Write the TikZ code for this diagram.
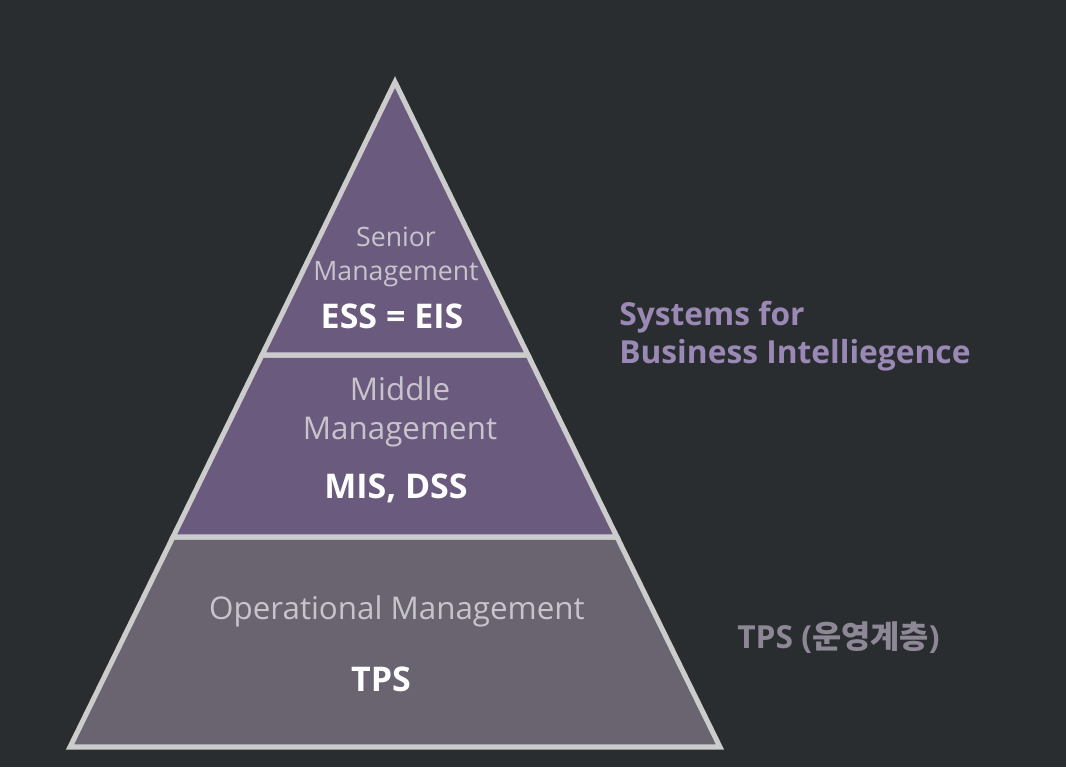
\documentclass[tikz,border=0pt]{standalone}
\usepackage{fontspec}
\setmainfont{Open Sans}
\newfontfamily\krfont{Noto Sans CJK KR}
\definecolor{bgdark}{HTML}{2A2D30}
\definecolor{upper}{HTML}{6A5A7E}
\definecolor{lower}{HTML}{6A6470}
\definecolor{rim}{HTML}{CCCCCC}
\definecolor{mgmttext}{HTML}{C8C4CC}
\definecolor{bitext}{HTML}{9A88B5}
\definecolor{tpstext}{HTML}{8E8896}
\tikzset{
  layer/.style={draw=rim, line width=3.8pt, line join=miter},
  mgmt/.style={text=mgmttext, font=\fontsize{20}{25.5}\selectfont, align=center, inner sep=0pt},
  mgmtbig/.style={mgmt, font=\fontsize{23.5}{29}\selectfont},
  sys/.style={text=white, font=\fontsize{25.5}{30}\selectfont\bfseries, inner sep=0pt},
  side/.style={font=\fontsize{23.8}{28.5}\selectfont\bfseries, align=left, inner sep=0pt}
}
\begin{document}
\begin{tikzpicture}[x=0.75pt, y=-0.75pt]
  \fill[bgdark] (0,0) rectangle (1066,767);
  \useasboundingbox (0,0) rectangle (1066,767);
  \coordinate (apex) at (395,82);
  \coordinate (l1) at (262,355);
  \coordinate (r1) at (528,355);
  \coordinate (l2) at (173,537);
  \coordinate (r2) at (617,537);
  \coordinate (l3) at (70,747);
  \coordinate (r3) at (720,747);
  \draw[layer, fill=lower] (l2) -- (r2) -- (r3) -- (l3) -- cycle;
  \draw[layer, fill=upper] (l1) -- (r1) -- (r2) -- (l2) -- cycle;
  \draw[layer, fill=upper] (apex) -- (r1) -- (l1) -- cycle;
  % layer labels
  \node[mgmt] (senior) at (396,257) {Senior\\Management};
  \node[sys] (ess) at (392,316) {ESS = EIS};
  \node[mgmtbig] (middle) at (400,412) {Middle\\Management};
  \node[sys] (mis) at (396,488) {MIS, DSS};
  \node[mgmtbig] (oper) at (397,611) {Operational Management};
  \node[sys] (tps) at (381,679) {TPS};
  % side labels
  \node[side, text=bitext, anchor=west] (bi) at (619,336) {Systems for\\Business Intelliegence};
  \node[side, text=tpstext, anchor=west] (tpsside) at (737,638) {TPS ({\krfont\bfseries 운영계층})};
\end{tikzpicture}
\end{document}
